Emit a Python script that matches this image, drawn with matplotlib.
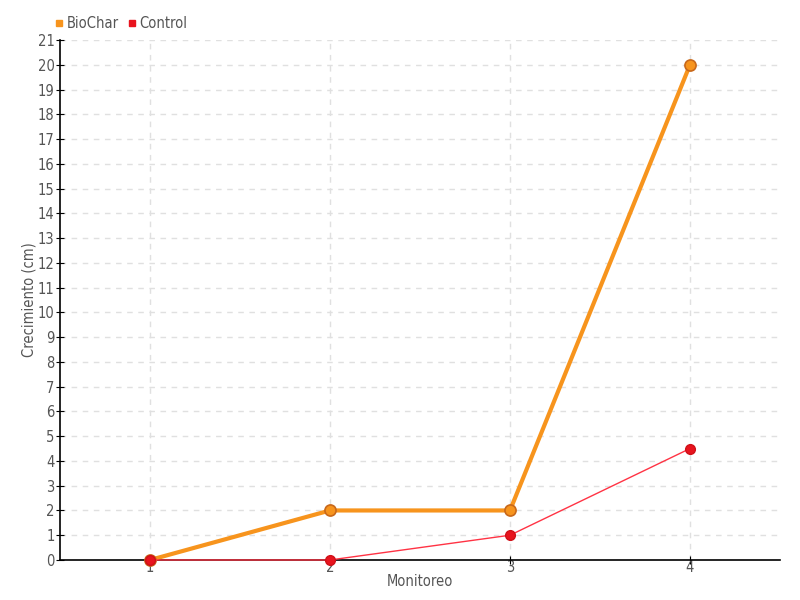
import matplotlib
matplotlib.use("Agg")
import matplotlib.pyplot as plt

monitoreo = [1, 2, 3, 4]
biochar = [0, 2, 2, 20]
control = [0, 0, 1, 4.5]

plt.rcParams['font.family'] = ['DejaVu Sans']
plt.rcParams['font.stretch'] = 'condensed'
text_color = "#555555"

fig = plt.figure(figsize=(8, 6), dpi=100)
ax = fig.add_axes([0.075, 0.0667, 0.9, 0.8666])

ax.plot(monitoreo, biochar, color="#f7941d", lw=3, marker="o", ms=8,
        mfc="#f7941d", mec="#c8681a", mew=1.2, label="BioChar", zorder=3,
        clip_on=False)
ax.plot(monitoreo, control, color="#ff3344", lw=1, marker="o", ms=7,
        mfc="#e8141e", mec="#d01018", mew=1, label="Control", zorder=4,
        clip_on=False)

ax.set_xlim(0.5, 4.5)
ax.set_ylim(0, 21)
ax.set_xticks(monitoreo)
ax.set_yticks(range(0, 22))
ax.grid(True, color="#e0e0e0", ls=(0, (4, 4)), lw=1)
ax.set_axisbelow(True)
for s in ["top", "right"]:
    ax.spines[s].set_visible(False)
for s in ["left", "bottom"]:
    ax.spines[s].set_color("black")
    ax.spines[s].set_linewidth(1.2)
ax.tick_params(axis="both", direction="inout", length=6, color="black",
               labelsize=10.5, labelcolor=text_color, pad=1)
ax.tick_params(axis="x", pad=-3)

ax.set_xlabel("Monitoreo", fontsize=10.5, color=text_color, labelpad=-1)
ax.set_ylabel("Crecimiento (cm)", fontsize=10.5, color=text_color, labelpad=1)

handles = [plt.Line2D([], [], ls="none", marker="s", ms=5, color="#f7941d"),
           plt.Line2D([], [], ls="none", marker="s", ms=5, color="#e8141e")]
fig.legend(handles, ["BioChar", "Control"], loc="upper left",
           bbox_to_anchor=(0.052, 0.995), ncol=2, frameon=False,
           fontsize=10.5, labelcolor=text_color, handlelength=0.6,
           handletextpad=0.2, columnspacing=0.6)

fig.savefig("out.png", dpi=100)
